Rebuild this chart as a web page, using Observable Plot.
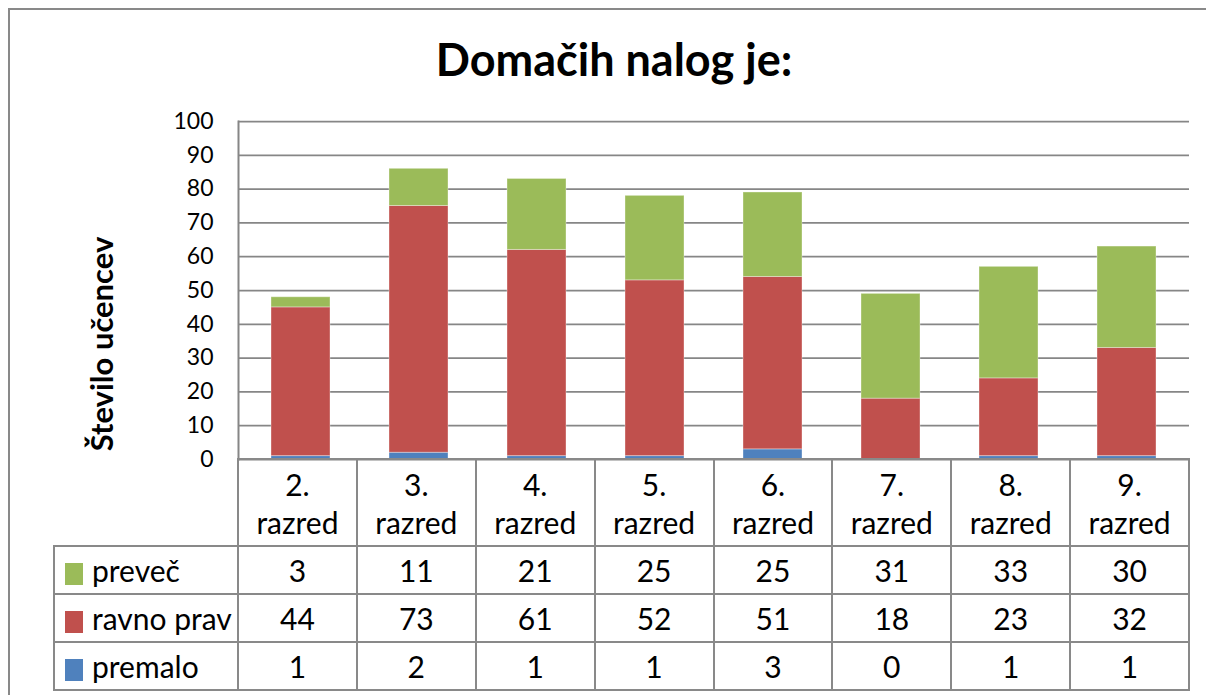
<!DOCTYPE html>
<html><head><meta charset="utf-8">
<script src="https://cdn.jsdelivr.net/npm/d3@7"></script>
<script src="https://cdn.jsdelivr.net/npm/@observablehq/plot@0.6"></script>
<style>
html,body{margin:0;padding:0;background:#fff;overflow:hidden}
#wrap{position:relative;width:1206px;height:695px;overflow:hidden;font-family:Lato,"Open Sans",sans-serif;color:#000;background:#fff}
#frame{position:absolute;left:8px;top:8px;width:1400px;height:900px;border-left:2px solid #898989;border-top:2px solid #898989}
#title{position:absolute;left:0;width:1228px;top:37px;text-align:center;font-weight:bold;font-size:45px;line-height:45px;white-space:nowrap}
#ylabel{position:absolute;left:101px;top:344px;transform:translate(-50%,-50%) rotate(-90deg);font-weight:bold;font-size:31px;line-height:31px;white-space:nowrap}
#chart{position:absolute;left:0;top:0}
#tbl{position:absolute;left:53px;top:458px;border-collapse:collapse;table-layout:fixed;width:1137px;font-size:30px}
#tbl td{border:2px solid #898989;text-align:center;vertical-align:middle;padding:0;white-space:nowrap}
#tbl tr.hdr td{height:85px;line-height:38px}
#tbl tr.hdr td.blank{border-top:none;border-left:none}
#tbl tr.row td{height:46px;line-height:34px}
#tbl td.leg{text-align:left;padding-left:10px}
.sw{display:inline-block;width:18px;height:22px;margin-right:9px;vertical-align:-3px}
</style></head>
<body>
<div id="wrap">
  <div id="frame"></div>
  <div id="chart"></div>
  <div id="title">Domačih nalog je:</div>
  <div id="ylabel">Število učencev</div>
  <table id="tbl"></table>
</div>
<script>
const categories = ["2. razred","3. razred","4. razred","5. razred","6. razred","7. razred","8. razred","9. razred"];
const seriesNames = ["premalo","ravno prav","preveč"];
const premalo   = [1, 2, 1, 1, 3, 0, 1, 1];
const ravnoPrav = [44, 73, 61, 52, 51, 18, 23, 32];
const prevec    = [3, 11, 21, 25, 25, 31, 33, 30];
const seriesColors = ["#4F81BD","#C0504D","#9BBB59"];
const yTicks = [0,10,20,30,40,50,60,70,80,90,100];

const seriesValues = [premalo, ravnoPrav, prevec];
const data = [];
seriesNames.forEach((s, si) => categories.forEach((c, ci) => data.push({cat: c, series: s, value: seriesValues[si][ci]})));

const plot = Plot.plot({
  width: 1206,
  height: 546,
  marginTop: 121,
  marginBottom: 87,
  marginLeft: 238,
  marginRight: 17,
  style: {fontFamily: "Lato, 'Open Sans', sans-serif", background: "transparent", color: "#000"},
  x: {domain: categories, axis: null, paddingInner: 0.5, paddingOuter: 0.25},
  y: {domain: [0, 100], axis: null},
  color: {domain: seriesNames, range: seriesColors},
  marks: [
    Plot.gridY(yTicks, {stroke: "#868686", strokeOpacity: 1, strokeWidth: 1.75}),
    Plot.axisY(yTicks, {tickSize: 0, tickPadding: 25, fontSize: 23, label: null, tickFormat: d => String(d)}),
    Plot.barY(data, {x: "cat", y: "value", fill: "series", stroke: "#fff", strokeOpacity: 0.35, strokeWidth: 1}),
    Plot.frame({anchor: "left", stroke: "#868686", strokeWidth: 2})
  ]
});
document.getElementById("chart").appendChild(plot);

// data table
const tbl = d3.select("#tbl");
const cg = tbl.append("colgroup");
cg.append("col").style("width", "184px");
categories.forEach(() => cg.append("col").style("width", "118.875px"));
const hdr = tbl.append("tr").attr("class", "hdr");
hdr.append("td").attr("class", "blank");
categories.forEach(c => {
  const [a, b] = c.split(" ");
  hdr.append("td").html(a + "<br>" + b);
});
[2, 1, 0].forEach(si => {
  const tr = tbl.append("tr").attr("class", "row");
  const lc = tr.append("td").attr("class", "leg");
  lc.append("span").attr("class", "sw").style("background", seriesColors[si]);
  lc.append("span").text(seriesNames[si]);
  seriesValues[si].forEach(v => tr.append("td").text(v));
});
</script>
</body></html>
